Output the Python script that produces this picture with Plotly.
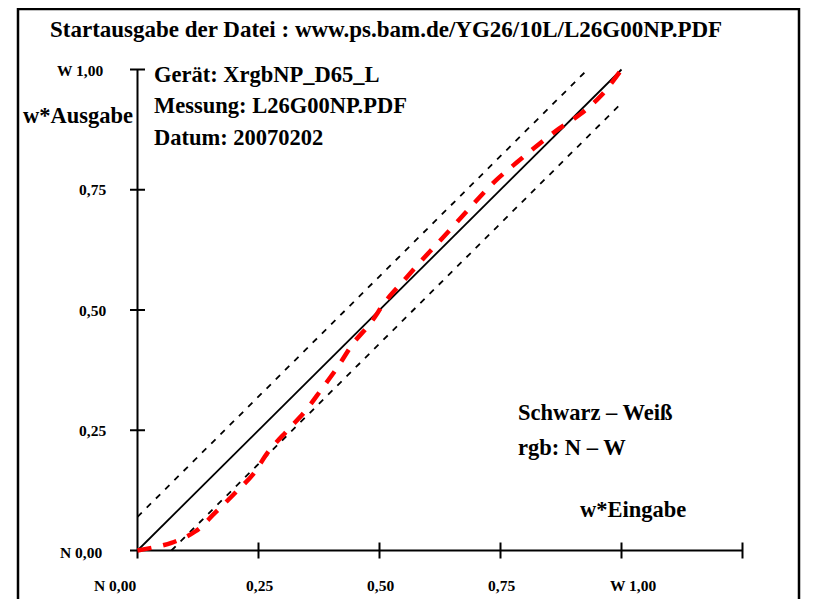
import plotly.graph_objects as go

# ---- data ----
x_ticks = [0.0, 0.25, 0.5, 0.75, 1.0]
x_tick_labels = ["N 0,00", "0,25", "0,50", "0,75", "W 1,00"]
y_ticks = [0.0, 0.25, 0.5, 0.75, 1.0]
y_tick_labels = ["N 0,00", "0,25", "0,50", "0,75", "W 1,00"]
x_axis_end = 1.25

ref_x = [0.0, 1.0]
ref_y = [0.0, 1.0]
tol = 0.07

meas_x = [0.0, 0.07, 0.12, 0.16, 0.20, 0.24, 0.27, 0.31, 0.345, 0.38, 0.414, 0.445,
          0.48, 0.514, 0.55, 0.587, 0.625, 0.663, 0.70, 0.74, 0.784, 0.826, 0.871,
          0.916, 0.958, 1.0]
meas_y = [0.0, 0.016, 0.04, 0.078, 0.118, 0.16, 0.205, 0.25, 0.288, 0.335, 0.382, 0.43,
          0.471, 0.52, 0.561, 0.603, 0.644, 0.686, 0.727, 0.769, 0.807, 0.842, 0.877,
          0.908, 0.946, 1.0]

# ---- geometry (page pixel mapping; page body has an 8px margin) ----
OFF = 8
W, H = 801, 591
X0PX, XSC = 137.5 - OFF, 484.0
Y0PX, YSC = 550.5 - OFF, 481.0
xr = [-X0PX / XSC, (W - X0PX) / XSC]
yr = [(Y0PX - H) / YSC, Y0PX / YSC]
dx = 7.5 / XSC
dy = 8.0 / YSC

def px(x):
    return (x - OFF) / W

def py(y):
    return 1 - (y - OFF) / H

def dxp(x):  # page px -> data x
    return (x - OFF - X0PX) / XSC

def dyp(y):  # page px -> data y
    return (Y0PX - (y - OFF)) / YSC

FONT = "Liberation Serif, Times New Roman, serif"
fig = go.Figure()

# outer frame
fig.add_trace(go.Scatter(x=[dxp(18), dxp(18), dxp(799), dxp(799)],
                         y=[dyp(620), dyp(9), dyp(9), dyp(620)], mode="lines",
                         line=dict(color="black", width=2.5), hoverinfo="skip"))

# axes drawn as traces
fig.add_trace(go.Scatter(x=[-dx, x_axis_end], y=[0, 0], mode="lines",
                         line=dict(color="black", width=2), hoverinfo="skip"))
tx, ty = [], []
for t in x_ticks[1:] + [x_axis_end]:
    tx += [t, t, None]
    ty += [-dy, dy, None]
fig.add_trace(go.Scatter(x=tx, y=ty, mode="lines", line=dict(color="black", width=2), hoverinfo="skip"))
fig.add_trace(go.Scatter(x=[0, 0], y=[-dy, y_ticks[-1]], mode="lines",
                         line=dict(color="black", width=2), hoverinfo="skip"))
hx, hy = [], []
for t in y_ticks[1:]:
    hx += [-dx, dx, None]
    hy += [t, t, None]
fig.add_trace(go.Scatter(x=hx, y=hy, mode="lines", line=dict(color="black", width=2), hoverinfo="skip"))

# reference lines
fig.add_trace(go.Scatter(x=ref_x, y=ref_y, mode="lines", line=dict(color="black", width=1.8)))
fig.add_trace(go.Scatter(x=[0, 1 - tol], y=[tol, 1], mode="lines",
                         line=dict(color="black", width=1.8, dash="6px,7px")))
fig.add_trace(go.Scatter(x=[tol, 1], y=[0, 1 - tol], mode="lines",
                         line=dict(color="black", width=1.8, dash="6px,7px")))
# measured curve
fig.add_trace(go.Scatter(x=meas_x, y=meas_y, mode="lines", line_shape="spline",
                         line=dict(color="#ff0000", width=4.5, dash="14px,12px")))

ann = []
def text(x, y, s, size, xanchor="left"):
    ann.append(dict(x=px(x), y=py(y), xref="paper", yref="paper", text=s, showarrow=False,
                    xanchor=xanchor, yanchor="middle", font=dict(family=FONT, size=size, color="black")))

text(48, 30, "<b>Startausgabe der Datei : www.ps.bam.de/YG26/10L/L26G00NP.PDF</b>", 23)
text(21, 115, "<b>w*Ausgabe</b>", 22.5)
text(152, 75, "<b>Gerät: XrgbNP_D65_L</b>", 22.5)
text(152, 106, "<b>Messung: L26G00NP.PDF</b>", 22.5)
text(152, 137, "<b>Datum: 20070202</b>", 22.5)
text(516, 413, "<b>Schwarz – Weiß</b>", 22.5)
text(516, 447, "<b>rgb: N – W</b>", 22.5)
text(578, 509, "<b>w*Eingabe</b>", 22.5)

# tick labels
x_label_px = [115, 259, 380, 501, 633]
for v, lab, cx in zip(x_ticks, x_tick_labels, x_label_px):
    ann.append(dict(x=v, y=dyp(585), xref="x", yref="y", text="<b>%s</b>" % lab,
                    showarrow=False, xanchor="center", yanchor="middle",
                    xshift=(cx - OFF) - (X0PX + v * XSC),
                    font=dict(family=FONT, size=15.5, color="black")))
y_label_right = [104, 108, 108, 108, 105]
y_label_shift = [-2, 0, 0, 0, -1]
for v, lab, rx, sh in zip(y_ticks, y_tick_labels, y_label_right, y_label_shift):
    ann.append(dict(x=dxp(rx), y=v, xref="x", yref="y", text="<b>%s</b>" % lab,
                    showarrow=False, xanchor="right", yanchor="middle", yshift=sh,
                    font=dict(family=FONT, size=15.5, color="black")))

fig.update_layout(
    width=W, height=H, margin=dict(l=0, r=0, t=0, b=0),
    paper_bgcolor="white", plot_bgcolor="white", showlegend=False,
    xaxis=dict(range=xr, visible=False, fixedrange=True),
    yaxis=dict(range=yr, visible=False, fixedrange=True),
    annotations=ann,
)
fig.write_html("out.html")
